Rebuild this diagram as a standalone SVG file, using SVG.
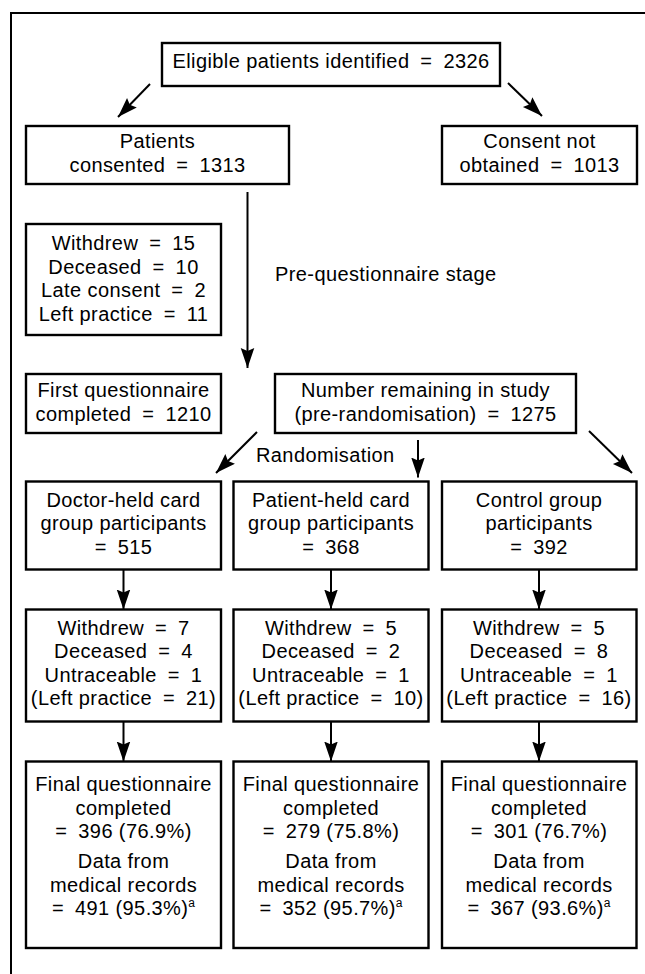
<svg xmlns="http://www.w3.org/2000/svg" width="645" height="974" viewBox="0 0 645 974">
<style>
.box{fill:#fff;stroke:#000;stroke-width:2.4}
.t{font-family:"Liberation Sans",Arial,Helvetica,sans-serif;font-size:20px;letter-spacing:0.4px;fill:#000;text-anchor:middle}
.l{text-anchor:start}
.eq{word-spacing:5px}
.sup{font-size:12px;letter-spacing:0}
.c{fill:none;stroke:#000;stroke-width:2}
.frame{fill:none;stroke:#000;stroke-width:2}
</style>
<defs>
<marker id="ah" markerUnits="userSpaceOnUse" markerWidth="22" markerHeight="16" viewBox="0 -8 22 16" refX="20" refY="0" orient="auto">
<path d="M0,-6.8 L20,0 L0,6.8 L3,0 Z" fill="#000"/>
</marker>
</defs>
<rect width="645" height="974" fill="#fff"/>
<path class="frame" d="M11,974 V13 H645"/>

<g id="connectors">
<line class="c" x1="150" y1="84" x2="118" y2="117" marker-end="url(#ah)"/>
<line class="c" x1="508" y1="83" x2="542" y2="116" marker-end="url(#ah)"/>
<line class="c" x1="247.5" y1="192" x2="247.5" y2="368" marker-end="url(#ah)"/>
<line class="c" x1="257" y1="432" x2="216" y2="473" marker-end="url(#ah)"/>
<line class="c" x1="418" y1="440" x2="418" y2="477.5" marker-end="url(#ah)"/>
<line class="c" x1="589" y1="431" x2="632" y2="473" marker-end="url(#ah)"/>
<line class="c" x1="123.5" y1="570" x2="123.5" y2="609.5" marker-end="url(#ah)"/>
<line class="c" x1="331" y1="570" x2="331" y2="609.5" marker-end="url(#ah)"/>
<line class="c" x1="539" y1="570" x2="539" y2="609.5" marker-end="url(#ah)"/>
<line class="c" x1="123.5" y1="722" x2="123.5" y2="761.5" marker-end="url(#ah)"/>
<line class="c" x1="331" y1="722" x2="331" y2="761.5" marker-end="url(#ah)"/>
<line class="c" x1="539" y1="722" x2="539" y2="761.5" marker-end="url(#ah)"/>
<text class="t l" x="275" y="281">Pre-questionnaire stage</text>
<text class="t l" x="256" y="462">Randomisation</text>
</g>

<g id="eligible">
<rect class="box" x="162" y="43" width="338" height="43"/>
<text class="t" x="331" y="68">Eligible patients identified<tspan class="eq"> = </tspan>2326</text>
</g>

<g id="consented">
<rect class="box" x="26" y="126" width="263" height="58"/>
<text class="t" x="157.5" y="148">Patients</text>
<text class="t" x="157.5" y="172">consented<tspan class="eq"> = </tspan>1313</text>
</g>

<g id="not-obtained">
<rect class="box" x="442" y="126" width="195" height="58"/>
<text class="t" x="539.5" y="148">Consent not</text>
<text class="t" x="539.5" y="172">obtained<tspan class="eq"> = </tspan>1013</text>
</g>

<g id="pre-losses">
<rect class="box" x="26" y="224" width="195" height="111"/>
<text class="t" x="123.5" y="250">Withdrew<tspan class="eq"> = </tspan>15</text>
<text class="t" x="123.5" y="273.5">Deceased<tspan class="eq"> = </tspan>10</text>
<text class="t" x="123.5" y="297">Late consent<tspan class="eq"> = </tspan>2</text>
<text class="t" x="123.5" y="320.5">Left practice<tspan class="eq"> = </tspan>11</text>
</g>

<g id="first-questionnaire">
<rect class="box" x="26" y="374" width="195" height="59"/>
<text class="t" x="123.5" y="397">First questionnaire</text>
<text class="t" x="123.5" y="420.5">completed<tspan class="eq"> = </tspan>1210</text>
</g>

<g id="remaining">
<rect class="box" x="275" y="374" width="301" height="59"/>
<text class="t" x="425.5" y="397">Number remaining in study</text>
<text class="t" x="425.5" y="420.5">(pre-randomisation)<tspan class="eq"> = </tspan>1275</text>
</g>

<g id="doctor-group">
<rect class="box" x="26" y="481.5" width="195" height="88"/>
<text class="t" x="123.5" y="506.5">Doctor-held card</text>
<text class="t" x="123.5" y="530">group participants</text>
<text class="t" x="123.5" y="553.5"><tspan class="eq">= </tspan>515</text>
</g>

<g id="patient-group">
<rect class="box" x="233.5" y="481.5" width="195" height="88"/>
<text class="t" x="331" y="506.5">Patient-held card</text>
<text class="t" x="331" y="530">group participants</text>
<text class="t" x="331" y="553.5"><tspan class="eq">= </tspan>368</text>
</g>

<g id="control-group">
<rect class="box" x="442" y="481.5" width="194.5" height="88"/>
<text class="t" x="539" y="506.5">Control group</text>
<text class="t" x="539" y="530">participants</text>
<text class="t" x="539" y="553.5"><tspan class="eq">= </tspan>392</text>
</g>

<g id="doctor-losses">
<rect class="box" x="26" y="609.5" width="195" height="112"/>
<text class="t" x="123.5" y="634.5">Withdrew<tspan class="eq"> = </tspan>7</text>
<text class="t" x="123.5" y="658">Deceased<tspan class="eq"> = </tspan>4</text>
<text class="t" x="123.5" y="681.5">Untraceable<tspan class="eq"> = </tspan>1</text>
<text class="t" x="123.5" y="705">(Left practice<tspan class="eq"> = </tspan>21)</text>
</g>

<g id="patient-losses">
<rect class="box" x="233.5" y="609.5" width="195" height="112"/>
<text class="t" x="331" y="634.5">Withdrew<tspan class="eq"> = </tspan>5</text>
<text class="t" x="331" y="658">Deceased<tspan class="eq"> = </tspan>2</text>
<text class="t" x="331" y="681.5">Untraceable<tspan class="eq"> = </tspan>1</text>
<text class="t" x="331" y="705">(Left practice<tspan class="eq"> = </tspan>10)</text>
</g>

<g id="control-losses">
<rect class="box" x="442" y="609.5" width="194.5" height="112"/>
<text class="t" x="539" y="634.5">Withdrew<tspan class="eq"> = </tspan>5</text>
<text class="t" x="539" y="658">Deceased<tspan class="eq"> = </tspan>8</text>
<text class="t" x="539" y="681.5">Untraceable<tspan class="eq"> = </tspan>1</text>
<text class="t" x="539" y="705">(Left practice<tspan class="eq"> = </tspan>16)</text>
</g>

<g id="doctor-final">
<rect class="box" x="26" y="761.5" width="195" height="186.5"/>
<text class="t" x="123.5" y="791">Final questionnaire</text>
<text class="t" x="123.5" y="814.5">completed</text>
<text class="t" x="123.5" y="838"><tspan class="eq">= </tspan>396 (76.9%)</text>
<text class="t" x="123.5" y="868">Data from</text>
<text class="t" x="123.5" y="891.5">medical records</text>
<text class="t" x="123.5" y="915"><tspan class="eq">= </tspan>491 (95.3%)<tspan class="sup" dy="-8">a</tspan></text>
</g>

<g id="patient-final">
<rect class="box" x="233.5" y="761.5" width="195" height="186.5"/>
<text class="t" x="331" y="791">Final questionnaire</text>
<text class="t" x="331" y="814.5">completed</text>
<text class="t" x="331" y="838"><tspan class="eq">= </tspan>279 (75.8%)</text>
<text class="t" x="331" y="868">Data from</text>
<text class="t" x="331" y="891.5">medical records</text>
<text class="t" x="331" y="915"><tspan class="eq">= </tspan>352 (95.7%)<tspan class="sup" dy="-8">a</tspan></text>
</g>

<g id="control-final">
<rect class="box" x="442" y="761.5" width="194.5" height="186.5"/>
<text class="t" x="539" y="791">Final questionnaire</text>
<text class="t" x="539" y="814.5">completed</text>
<text class="t" x="539" y="838"><tspan class="eq">= </tspan>301 (76.7%)</text>
<text class="t" x="539" y="868">Data from</text>
<text class="t" x="539" y="891.5">medical records</text>
<text class="t" x="539" y="915"><tspan class="eq">= </tspan>367 (93.6%)<tspan class="sup" dy="-8">a</tspan></text>
</g>
</svg>
